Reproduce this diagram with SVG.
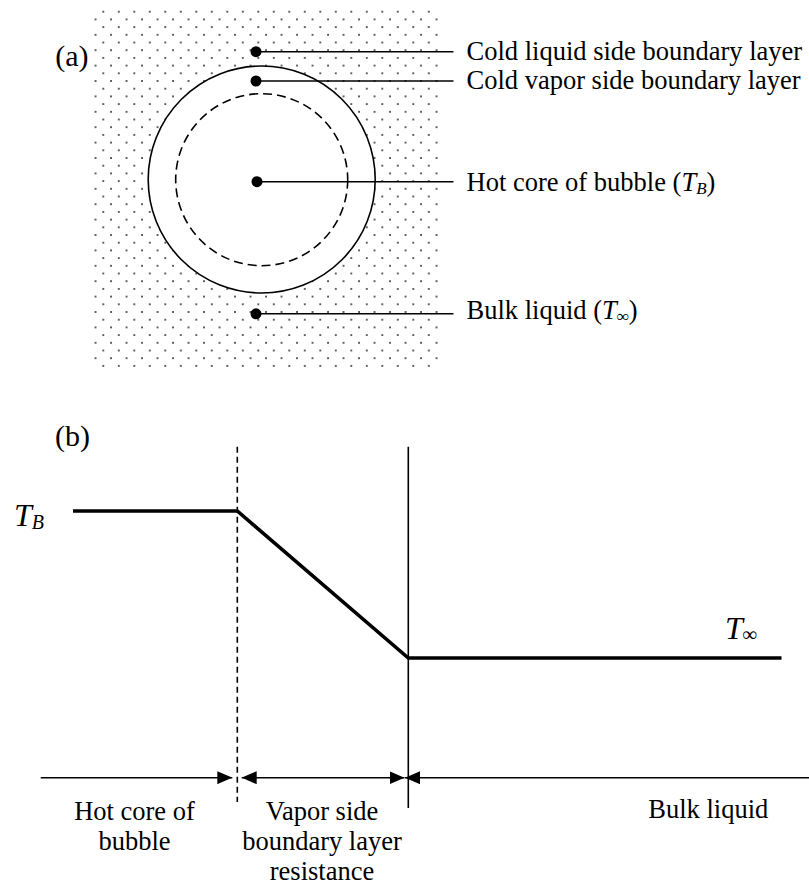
<svg xmlns="http://www.w3.org/2000/svg" width="809" height="886" viewBox="0 0 809 886">
<style>
text{font-family:"Liberation Serif","Times New Roman",serif;fill:#000}
.lbl{font-size:26.5px}
.big{font-size:30px}
.it{font-style:italic}
.thin{stroke:#000;stroke-width:1.6;fill:none}
.thick{stroke:#000;stroke-width:3.6;fill:none}
</style>
<defs>
<pattern id="dots" patternUnits="userSpaceOnUse" x="99.4" y="7.85" width="15.5" height="15.4">
<circle cx="3.9" cy="3.85" r="0.95" fill="#222"/>
<circle cx="11.65" cy="11.55" r="0.95" fill="#222"/>
</pattern>
<marker id="ah" viewBox="0 0 15 13" refX="15" refY="6.5" markerWidth="15" markerHeight="13" markerUnits="userSpaceOnUse" orient="auto-start-reverse">
<path d="M0,0 L15,6.5 L0,13 Z" fill="#000"/>
</marker>
</defs>
<g id="panel-a">
<rect id="liquid" x="93" y="9" width="345" height="359" fill="url(#dots)"/>
<circle id="bubble" cx="261.7" cy="179.5" r="113.5" fill="#fff" stroke="#000" stroke-width="1.6"/>
<circle id="core" cx="261.7" cy="179.7" r="86" fill="none" stroke="#000" stroke-width="1.6" stroke-dasharray="9 5"/>
<text class="big" x="88.5" y="66" text-anchor="end">(a)</text>
</g>
<g id="connectors-a">
<line class="thin" x1="256" y1="51.7" x2="453.5" y2="51.7"/>
<line class="thin" x1="256" y1="81" x2="453.5" y2="81"/>
<line class="thin" x1="257" y1="181.7" x2="453.5" y2="181.7"/>
<line class="thin" x1="256" y1="313.8" x2="453.5" y2="313.8"/>
</g>
<g id="node-liquid-bl">
<circle cx="256" cy="51.7" r="5.5" fill="#000"/>
<text class="lbl" x="466.5" y="59.5">Cold liquid side boundary layer</text>
</g>
<g id="node-vapor-bl">
<circle cx="256" cy="81" r="5.5" fill="#000"/>
<text class="lbl" x="466.5" y="89">Cold vapor side boundary layer</text>
</g>
<g id="node-core">
<circle cx="257" cy="181.7" r="5.5" fill="#000"/>
<text class="lbl" x="466.5" y="190.5">Hot core of bubble (<tspan class="it">T</tspan><tspan class="it" font-size="17" dy="3">B</tspan><tspan dy="-3">)</tspan></text>
</g>
<g id="node-bulk">
<circle cx="256" cy="313.8" r="5.5" fill="#000"/>
<text class="lbl" x="466.5" y="319">Bulk liquid (<tspan class="it">T</tspan><tspan class="it" font-size="17" dy="3">∞</tspan><tspan dy="-3">)</tspan></text>
</g>
<g id="panel-b">
<text class="big" x="55" y="446">(b)</text>
<text class="it" font-size="32" x="14" y="526">T<tspan font-size="20" dy="3">B</tspan></text>
<text class="it" font-size="32" x="725" y="639">T<tspan font-size="20" dy="2">∞</tspan></text>
<line class="thin" x1="237.3" y1="446.7" x2="237.3" y2="802" stroke-dasharray="6 4"/>
<line class="thin" x1="408.3" y1="446.7" x2="408.3" y2="808"/>
<polyline class="thick" points="73,511 237.3,511 408.3,658 781.5,658"/>
</g>
<g id="connectors-b">
<line class="thin" x1="40.7" y1="777.7" x2="232.3" y2="777.7" marker-end="url(#ah)"/>
<line class="thin" x1="241.7" y1="777.7" x2="404.5" y2="777.7" marker-start="url(#ah)" marker-end="url(#ah)"/>
<line class="thin" x1="405" y1="777.7" x2="809" y2="777.7" marker-start="url(#ah)"/>
</g>
<g id="labels-b">
<text class="lbl" x="134.5" y="820" text-anchor="middle">Hot core of</text>
<text class="lbl" x="134.5" y="850" text-anchor="middle">bubble</text>
<text class="lbl" x="322" y="820" text-anchor="middle">Vapor side</text>
<text class="lbl" x="322" y="850" text-anchor="middle">boundary layer</text>
<text class="lbl" x="322" y="880" text-anchor="middle">resistance</text>
<text class="lbl" x="708.3" y="818.3" text-anchor="middle">Bulk liquid</text>
</g>
</svg>
